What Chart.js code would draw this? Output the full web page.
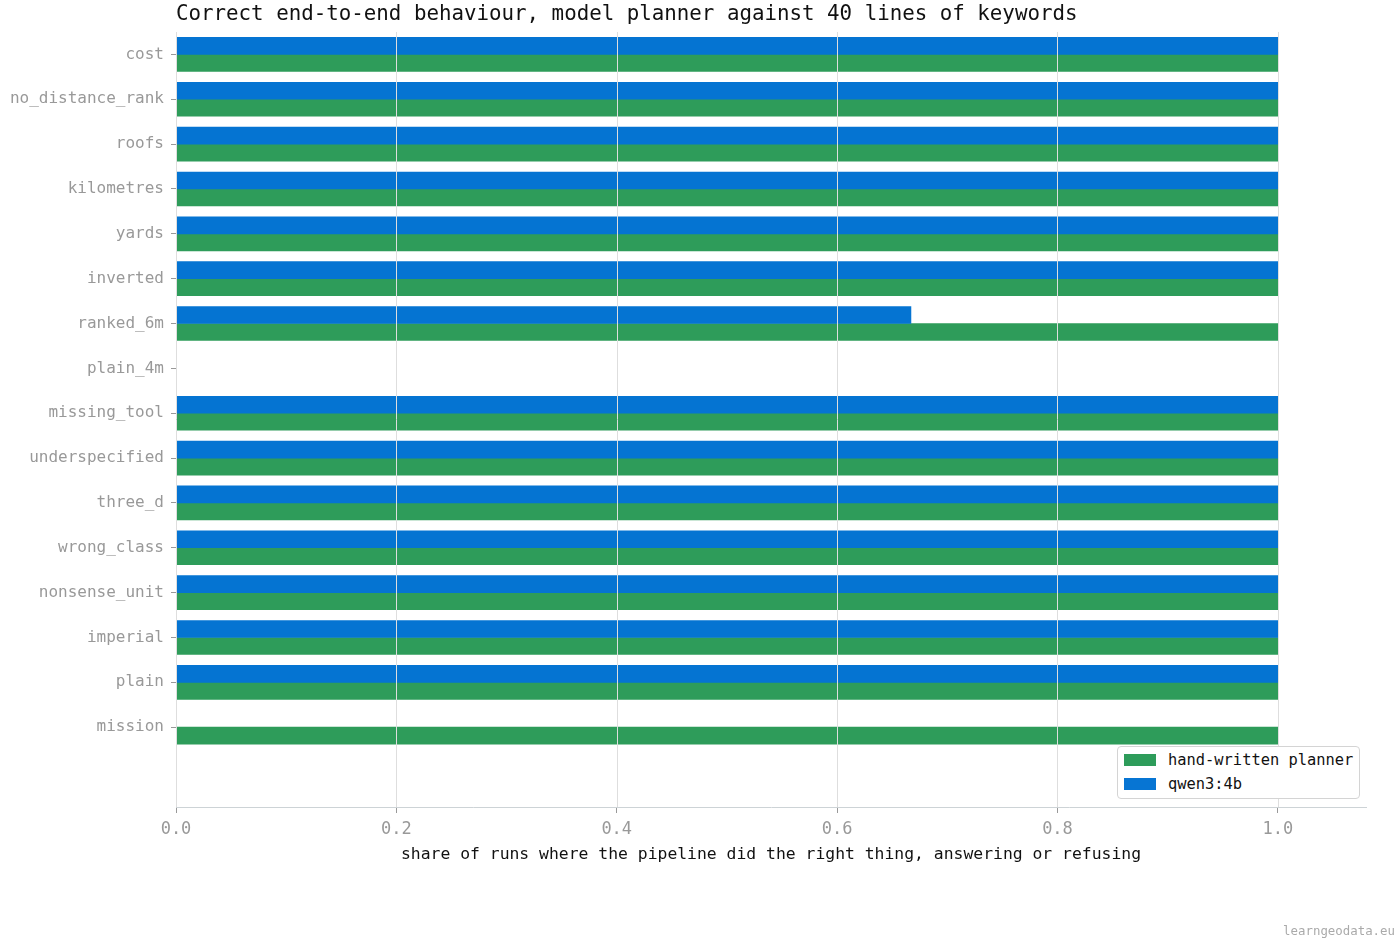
<!DOCTYPE html>
<html>
<head>
<meta charset="utf-8">
<script src="https://cdn.jsdelivr.net/npm/chart.js@4/dist/chart.umd.min.js"></script>
<style>
  body { margin: 0; background: #fff; font-family: "DejaVu Sans Mono", monospace; }
  #wrap { position: relative; width: 1400px; height: 943px; }
  #title { position: absolute; left: 176px; top: 1px; font-size: 20.8px; color: #111; white-space: nowrap; }
  #legend { position: absolute; left: 1117px; top: 746px; width: 241px; height: 51px; border: 1px solid #d4d4d4; border-radius: 4px; background: #fff; font-size: 15.4px; color: #111; }
  .row { position: absolute; left: 6px; height: 20px; line-height: 20px; white-space: nowrap; }
  .row span.box { display: inline-block; width: 32px; height: 12px; vertical-align: -1px; margin-right: 12px; }
  #mark { position: absolute; right: 5px; top: 923px; font-size: 12.4px; color: #aaa; }
</style>
</head>
<body>
<div id="wrap">
  <canvas id="barChart" width="1400" height="943"></canvas>
  <div id="title">Correct end-to-end behaviour, model planner against 40 lines of keywords</div>
  <div id="legend">
    <div class="row" style="top:3px"><span class="box" style="background:#2e9c5a"></span>hand-written planner</div>
    <div class="row" style="top:27px"><span class="box" style="background:#0775d3"></span>qwen3:4b</div>
  </div>
  <div id="mark">learngeodata.eu</div>
</div>
<script>
// cases, top to bottom
const categories = ['cost', 'no_distance_rank', 'roofs', 'kilometres', 'yards', 'inverted',
    'ranked_6m', 'plain_4m', 'missing_tool', 'underspecified', 'three_d', 'wrong_class',
    'nonsense_unit', 'imperial', 'plain', 'mission'];

// share of runs judged correct
const qwenScores = [1, 1, 1, 1, 1, 1, 0.667, 0, 1, 1, 1, 1, 1, 1, 1, 0];
const plannerScores = [1, 1, 1, 1, 1, 1, 1, 0, 1, 1, 1, 1, 1, 1, 1, 1];

const xTicks = [0, 0.2, 0.4, 0.6, 0.8, 1.0];

const BLUE = '#0574d2';
const GREEN = '#2e9c5a';

function toPoints(values) {
    return values.map((v, i) => ({ x: v, y: i }));
}

// vertical grid drawn over the bars, like the original figure
const gridOnTop = {
    id: 'gridOnTop',
    afterDatasetsDraw(chart) {
        const { ctx, chartArea, scales } = chart;
        ctx.save();
        ctx.strokeStyle = '#dedede';
        ctx.lineWidth = 1;
        xTicks.forEach(v => {
            const px = Math.round(scales.x.getPixelForValue(v)) + 0.5;
            ctx.beginPath();
            ctx.moveTo(px, chartArea.top);
            ctx.lineTo(px, chartArea.bottom);
            ctx.stroke();
        });
        ctx.restore();
    }
};

const ctx = document.getElementById('barChart').getContext('2d');
new Chart(ctx, {
    type: 'bar',
    data: {
        datasets: [
            { label: 'qwen3:4b', data: toPoints(qwenScores), backgroundColor: BLUE,
              borderWidth: 0, barThickness: 17 },
            { label: 'hand-written planner', data: toPoints(plannerScores), backgroundColor: GREEN,
              borderWidth: 0, barThickness: 17 }
        ]
    },
    plugins: [gridOnTop],
    options: {
        indexAxis: 'y',
        responsive: false,
        animation: false,
        layout: { padding: { top: 32, right: 34, bottom: 74, left: 0 } },
        plugins: { legend: { display: false }, tooltip: { enabled: false } },
        scales: {
            x: {
                type: 'linear',
                min: 0,
                max: 1.08,
                afterBuildTicks: s => { s.ticks = xTicks.map(v => ({ value: v })); },
                afterFit: s => { s.height = 62; },
                grid: { drawOnChartArea: false, tickColor: '#999', tickLength: 6 },
                border: { color: '#cdd3d6' },
                ticks: {
                    color: '#999', padding: 6,
                    font: { family: 'DejaVu Sans Mono', size: 17 },
                    callback: v => v.toFixed(1)
                },
                title: {
                    display: true,
                    text: 'share of runs where the pipeline did the right thing, answering or refusing',
                    color: '#111',
                    font: { family: 'DejaVu Sans Mono', size: 16.4 },
                    padding: { top: 4, bottom: 4 }
                }
            },
            y: {
                type: 'linear',
                reverse: true,
                offset: false,
                min: -0.5,
                max: 16.78,
                afterBuildTicks: s => { s.ticks = categories.map((c, i) => ({ value: i })); },
                afterFit: s => { s.width = 176; },
                grid: { drawOnChartArea: false, offset: false, tickColor: '#999', tickLength: 5 },
                border: { color: '#cdd3d6' },
                ticks: {
                    color: '#999', padding: 7, autoSkip: false,
                    font: { family: 'DejaVu Sans Mono', size: 16 },
                    callback: v => categories[v] ?? ''
                }
            }
        }
    }
});
</script>
</body>
</html>
